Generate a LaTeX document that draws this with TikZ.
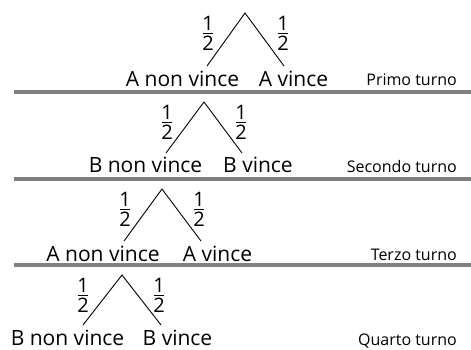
\documentclass[tikz,border=0pt]{standalone}
\usepackage{fontspec}
\setmainfont{Open Sans}
\begin{document}
\begin{tikzpicture}[x=1pt,y=-1pt,
  lab/.style={inner sep=0pt,anchor=base,font=\fontsize{21}{21}\selectfont},
  turn/.style={inner sep=0pt,anchor=base east,font=\fontsize{16}{16}\selectfont},
  digit/.style={inner sep=0pt,font=\fontsize{20}{20}\selectfont},
  branch/.style={line width=0.9pt},
  rulebar/.style={line width=3.5pt,draw=black!50},
  half/.pic={
    \draw[line width=0.9pt] (-4.8,0) -- (4.8,0);
    \node[digit,anchor=south] (one) at (0,-2.2) {1};
    \node[digit,anchor=north] (two) at (0,2.4) {2};
  }]
\useasboundingbox (0,0) rectangle (471,349);
% separators
\coordinate (s1a) at (14,92);  \coordinate (s1b) at (471,92);
\coordinate (s2a) at (14,179); \coordinate (s2b) at (471,179);
\coordinate (s3a) at (14,265); \coordinate (s3b) at (471,265);
\draw[rulebar] (s1a) -- (s1b);
\draw[rulebar] (s2a) -- (s2b);
\draw[rulebar] (s3a) -- (s3b);
% tree 1
\coordinate (t1) at (245,13);
\coordinate (t1l) at (207,66);
\coordinate (t1r) at (284,66);
\draw[branch] (t1l) -- (t1) -- (t1r);
\pic (f1l) at (208,33) {half};
\pic (f1r) at (283,33) {half};
\node[lab] (a1) at (182.5,86) {A non vince};
\node[lab] (b1) at (293.5,86) {A vince};
\node[turn] (p1) at (457,85) {Primo turno};
% tree 2
\coordinate (t2) at (204,102);
\coordinate (t2l) at (166,153);
\coordinate (t2r) at (242,153);
\draw[branch] (t2l) -- (t2) -- (t2r);
\pic (f2l) at (167,122) {half};
\pic (f2r) at (241,122) {half};
\node[lab] (a2) at (145.5,172.5) {B non vince};
\node[lab] (b2) at (258,172.5) {B vince};
\node[turn] (p2) at (457,172) {Secondo turno};
% tree 3
\coordinate (t3) at (162,189);
\coordinate (t3l) at (124,241);
\coordinate (t3r) at (201,241);
\draw[branch] (t3l) -- (t3) -- (t3r);
\pic (f3l) at (125,209) {half};
\pic (f3r) at (199,209) {half};
\node[lab] (a3) at (103,261) {A non vince};
\node[lab] (b3) at (217.5,261) {A vince};
\node[turn] (p3) at (457,260) {Terzo turno};
% tree 4
\coordinate (t4) at (122,275);
\coordinate (t4l) at (83,325);
\coordinate (t4r) at (161,325);
\draw[branch] (t4l) -- (t4) -- (t4r);
\pic (f4l) at (83,295) {half};
\pic (f4r) at (159,295) {half};
\node[lab] (a4) at (67.5,345) {B non vince};
\node[lab] (b4) at (177.5,345) {B vince};
\node[turn] (p4) at (457,345) {Quarto turno};
\end{tikzpicture}
\end{document}
